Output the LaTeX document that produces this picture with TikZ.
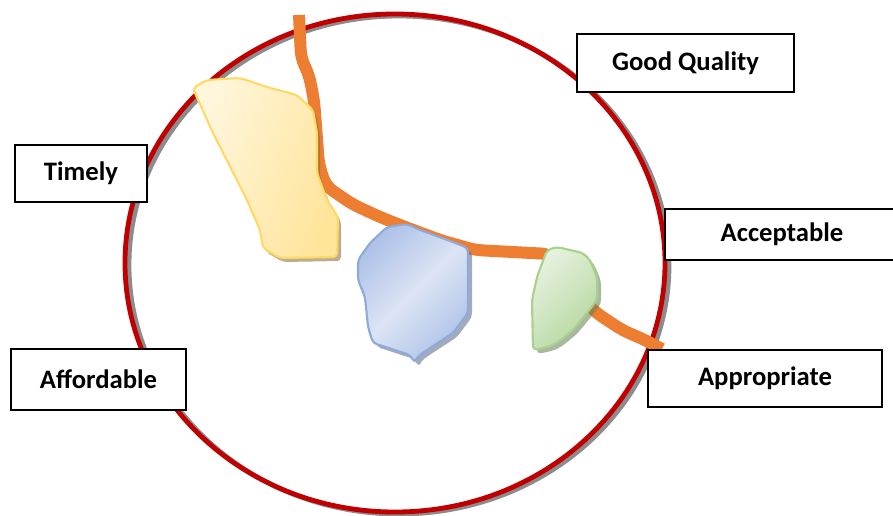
\documentclass[tikz,border=0pt]{standalone}
\usepackage{fontspec}
\setmainfont{Carlito}
\definecolor{ringred}{HTML}{C00000}
\definecolor{pathorange}{HTML}{ED7D31}
\definecolor{yelA}{HTML}{FFF6DC}
\definecolor{yelB}{HTML}{FFE49A}
\definecolor{yelE}{HTML}{FFD966}
\definecolor{bluA}{HTML}{DCE4F4}
\definecolor{bluB}{HTML}{AFC3E8}
\definecolor{bluE}{HTML}{8EAADB}
\definecolor{grnA}{HTML}{E6F1DE}
\definecolor{grnB}{HTML}{B5D8A0}
\definecolor{grnE}{HTML}{A9D18E}
\tikzset{
  labelbox/.style={draw=black, line width=1.1pt, fill=white, align=center,
    font=\fontsize{20}{24}\selectfont\bfseries, inner sep=0pt},
  blobshadow/.style={fill=black!45, opacity=0.55, rounded corners=3pt},
  blob/.style={line width=1.6pt, rounded corners=3pt}
}
\begin{document}
\begin{tikzpicture}[x=0.75pt, y=-0.75pt]
\useasboundingbox (0,0) rectangle (893,515);
% ring with shadow
\draw[line width=3.6pt, black!45] (399,265) ellipse [x radius=270, y radius=249];
\draw[line width=3.6pt, ringred] (395,263) ellipse [x radius=270, y radius=249];
% orange path
\draw[pathorange, line width=9pt, rounded corners=6pt]
  (299,15) -- (301,58) -- (309,75) -- (314,100) -- (319,165) -- (326,186)
  -- (352,204) -- (380,217) -- (400,225) -- (440,240) -- (475,250)
  -- (550,254) -- (575,290) -- (595,312) -- (622,330) -- (645,340) -- (662,349);
% yellow blob
\fill[blobshadow, fill=black!50!yelE]
  (196,97) -- (210,84) -- (243,82) -- (270,91) -- (300,99) -- (316,114)
  -- (320,137) -- (320,177) -- (330,204) -- (341,221) -- (341,261) -- (283,262)
  -- (266,252) -- (263,234) -- (250,204) -- (216,137) -- cycle;
\draw[blob, draw=yelE, left color=yelA, right color=yelB, shading angle=70]
  (193,88) -- (207,80) -- (240,78) -- (267,87) -- (297,95) -- (313,110)
  -- (317,133) -- (317,173) -- (327,200) -- (338,217) -- (337,257) -- (280,258)
  -- (263,248) -- (260,230) -- (247,200) -- (213,133) -- (195,93) -- cycle;
% blue blob
\fill[blobshadow, fill=black!40!bluE]
  (362,264) -- (374,247) -- (391,231) -- (411,228) -- (424,234) -- (457,246)
  -- (472,252) -- (472,317) -- (457,337) -- (431,354) -- (421,361) -- (419,367)
  -- (414,359) -- (377,347) -- (372,331) -- (369,301) -- (362,284) -- cycle;
\draw[blob, draw=bluE, left color=bluB, right color=bluB, middle color=bluA, shading angle=45]
  (358,260) -- (370,243) -- (387,227) -- (407,224) -- (420,230) -- (453,242)
  -- (468,248) -- (468,313) -- (453,333) -- (427,350) -- (417,357) -- (415,363)
  -- (410,355) -- (373,343) -- (368,327) -- (365,297) -- (358,280) -- cycle;
% green blob
\fill[blobshadow, fill=black!40!grnE]
  (541,281) -- (551,254) -- (561,251) -- (587,257) -- (594,264) -- (601,281)
  -- (601,304) -- (591,317) -- (577,334) -- (561,347) -- (552,351) -- (537,354)
  -- (536,304) -- cycle;
\draw[blob, draw=grnE, left color=grnA, right color=grnB, shading angle=45]
  (537,277) -- (547,250) -- (557,247) -- (583,253) -- (590,260) -- (597,277)
  -- (597,300) -- (587,313) -- (573,330) -- (557,343) -- (548,347) -- (533,350)
  -- (532,300) -- cycle;
% label boxes
\node[labelbox, minimum width=162.75pt, minimum height=43.5pt] (quality) at (685.5,63) {Good Quality};
\node[labelbox, minimum width=99pt, minimum height=42.75pt] (timely) at (81,173.5) {Timely};
\node[labelbox, minimum width=175.5pt, minimum height=38.25pt] (acceptable) at (782,234.5) {Acceptable};
\node[labelbox, minimum width=175.5pt, minimum height=42.75pt] (appropriate) at (765,378.5) {Appropriate};
\node[labelbox, minimum width=131.25pt, minimum height=45.75pt] (affordable) at (98.5,379.5) {Affordable};
\end{tikzpicture}
\end{document}
